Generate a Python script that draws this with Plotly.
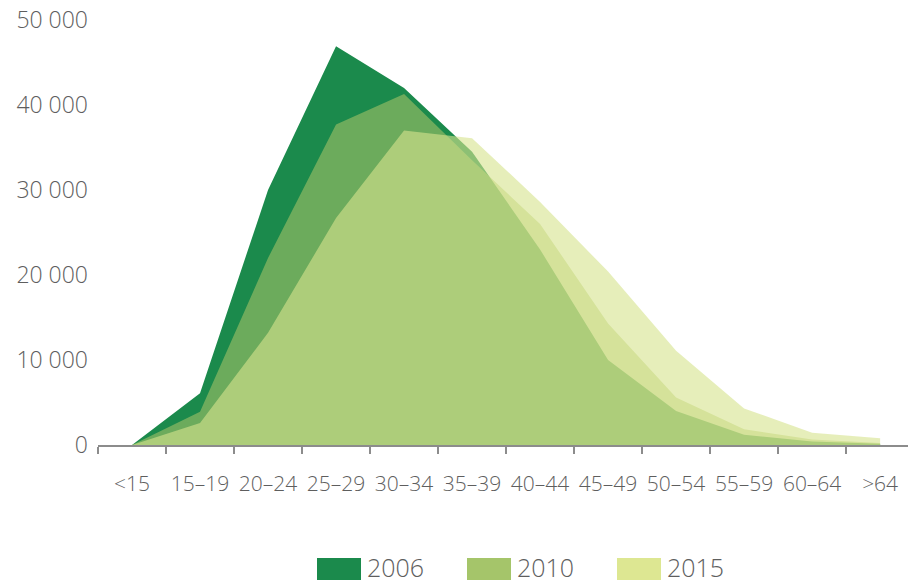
import plotly.graph_objects as go

categories = ["<15", "15–19", "20–24", "25–29", "30–34", "35–39",
              "40–44", "45–49", "50–54", "55–59", "60–64", ">64"]
v2006 = [0, 6100, 30000, 46900, 42000, 34500, 23000, 10000, 4000, 1200, 400, 150]
v2010 = [0, 3900, 22000, 37700, 41300, 33500, 26000, 14300, 5600, 1850, 650, 250]
v2015 = [0, 2600, 13200, 26700, 37000, 36100, 28600, 20400, 11100, 4300, 1450, 800]
years = ["2006", "2010", "2015"]
y_ticks = [0, 10000, 20000, 30000, 40000, 50000]
y_ticktext = ["0", "10 000", "20 000", "30 000", "40 000", "50 000"]

fills = ["#1b8a4c", "rgba(175,199,106,0.55)", "rgba(214,227,143,0.61)"]
legend_colors = ["#1b8a4c", "#a5c56a", "#dde792"]
series = [v2006, v2010, v2015]

TEXT = "#5e5e5e"
FONT = "Open Sans"

fig = go.Figure()
for name, vals, fc in zip(years, series, fills):
    fig.add_trace(go.Scatter(
        x=categories, y=vals, name=name, mode="lines",
        line=dict(width=0, color=fc), fill="tozeroy", fillcolor=fc,
        showlegend=False,
    ))

W, H = 908, 584
ML, MR, MT, MB = 98, 0, 10, 139
pw = W - ML - MR
ph = H - MT - MB

def px_x(px):
    return (px - ML) / pw

def px_y(py):
    return (H - MB - py) / ph

shapes = []
annotations = []
sw_left = [317, 467, 617]
for name, col, x0 in zip(years, legend_colors, sw_left):
    shapes.append(dict(type="rect", xref="paper", yref="paper",
                       x0=px_x(x0), x1=px_x(x0 + 44), y0=px_y(580), y1=px_y(558),
                       fillcolor=col, line=dict(width=0)))
    annotations.append(dict(text=name, xref="paper", yref="paper",
                            x=px_x(x0 + 48), y=px_y(567), xanchor="left", yanchor="middle",
                            showarrow=False,
                            font=dict(size=25, color=TEXT, family=FONT, weight=300)))

fig.update_layout(
    width=W, height=H,
    margin=dict(l=ML, r=MR, t=MT, b=MB, autoexpand=False),
    paper_bgcolor="white", plot_bgcolor="white",
    font=dict(family=FONT, color=TEXT, size=21, weight=300),
    shapes=shapes, annotations=annotations,
    xaxis=dict(
        type="category", range=[-0.5, 11.41],
        showgrid=False, zeroline=False, automargin=False,
        showline=True, linecolor="#8c8c8c", linewidth=2,
        ticks="outside", tickson="boundaries", ticklen=7, tickwidth=2, tickcolor="#8c8c8c",
        tickangle=0,
        tickfont=dict(size=21, color=TEXT, family=FONT, weight=300),
        ticklabelstandoff=19,
    ),
    yaxis=dict(
        range=[0, ph / 0.0085], automargin=False,
        showgrid=False, zeroline=False, showline=False,
        tickvals=y_ticks, ticktext=y_ticktext,
        tickfont=dict(size=23, color=TEXT, family=FONT, weight=300),
        ticklabelstandoff=9,
    ),
)

fig.write_html("out.html",
               config={"displayModeBar": False},
               post_script="document.body.style.margin='0';document.body.style.overflow='hidden';")
